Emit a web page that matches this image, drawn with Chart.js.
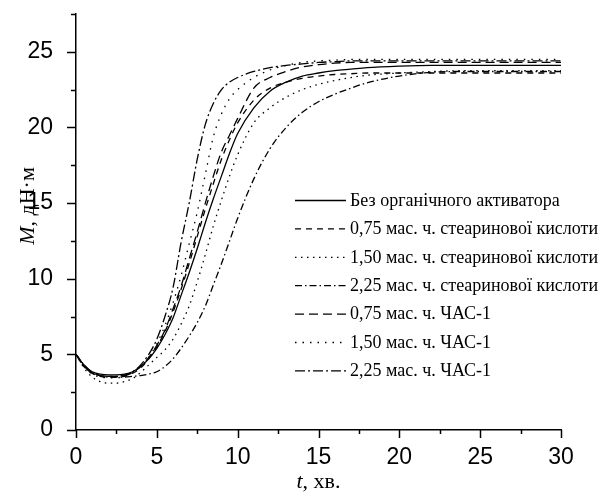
<!DOCTYPE html>
<html>
<head>
<meta charset="utf-8">
<script src="https://cdn.jsdelivr.net/npm/chart.js@4"></script>
<style>
  html, body { margin: 0; padding: 0; background: #fff; }
  #wrap { width: 603px; height: 497px; }
</style>
</head>
<body>
<div id="wrap"><canvas id="myChart" width="603" height="497"></canvas></div>
<script>
// time, min
const times = [0, 0.5, 1, 1.5, 2, 2.5, 3, 3.5, 4, 4.5, 5, 5.5, 6, 6.5, 7, 7.5, 8, 8.5, 9, 9.5, 10,
  11, 12, 13, 14, 15, 16, 17, 18, 20, 22, 24, 26, 28, 30];

// torque, dN*m
const noActivator = [5.0, 4.3, 3.85, 3.7, 3.65, 3.65, 3.7, 3.85, 4.2, 4.7, 5.4, 6.3, 7.4, 8.9, 10.4, 12.0, 13.7, 15.3, 16.8, 18.3, 19.6,
  21.3, 22.4, 23.0, 23.4, 23.6, 23.75, 23.85, 23.95, 24.05, 24.1, 24.1, 24.1, 24.1, 24.1];
const stearic075 = [5.0, 4.2, 3.75, 3.55, 3.5, 3.5, 3.55, 3.75, 4.1, 4.7, 5.5, 6.5, 7.8, 9.3, 11.0, 12.8, 14.6, 16.3, 17.9, 19.2, 20.3,
  21.8, 22.6, 23.0, 23.25, 23.4, 23.5, 23.55, 23.6, 23.6, 23.6, 23.6, 23.6, 23.6, 23.6];
const stearic150 = [5.0, 4.1, 3.5, 3.2, 3.1, 3.1, 3.2, 3.4, 3.8, 4.3, 4.8, 5.3, 6.0, 7.0, 8.2, 9.8, 11.6, 13.5, 15.2, 16.8, 18.2,
  20.3, 21.3, 22.0, 22.5, 22.85, 23.1, 23.3, 23.45, 23.6, 23.7, 23.75, 23.75, 23.75, 23.75];
const stearic225 = [5.0, 4.3, 3.8, 3.6, 3.5, 3.5, 3.5, 3.55, 3.6, 3.7, 3.85, 4.2, 4.7, 5.4, 6.2, 7.1, 8.2, 9.6, 11.0, 12.5, 14.0,
  16.6, 18.6, 20.0, 21.0, 21.7, 22.2, 22.6, 22.95, 23.4, 23.65, 23.7, 23.7, 23.7, 23.7];
const chas075 = [5.0, 4.25, 3.8, 3.6, 3.55, 3.55, 3.6, 3.8, 4.2, 4.8, 5.6, 6.6, 8.0, 9.5, 11.3, 13.1, 15.0, 16.8, 18.4, 19.5, 20.6,
  22.6, 23.3, 23.7, 24.0, 24.15, 24.25, 24.3, 24.3, 24.3, 24.3, 24.3, 24.3, 24.3, 24.3];
const chas150 = [5.0, 4.2, 3.7, 3.5, 3.45, 3.45, 3.55, 3.8, 4.2, 4.8, 5.7, 6.9, 8.4, 10.2, 12.3, 14.4, 16.9, 19.4, 20.9, 21.9, 22.5,
  23.3, 23.8, 24.1, 24.3, 24.4, 24.45, 24.5, 24.5, 24.5, 24.5, 24.5, 24.5, 24.5, 24.5];
const chas225 = [5.0, 4.2, 3.75, 3.6, 3.55, 3.55, 3.65, 3.85, 4.3, 5.0, 6.0, 7.5, 9.4, 12.4, 15.0, 17.9, 20.2, 21.6, 22.5, 23.0, 23.3,
  23.7, 23.95, 24.1, 24.2, 24.3, 24.35, 24.4, 24.4, 24.4, 24.4, 24.4, 24.4, 24.4, 24.4];

const seriesLabels = [
  "Без органічного активатора",
  "0,75 мас. ч. стеаринової кислоти",
  "1,50 мас. ч. стеаринової кислоти",
  "2,25 мас. ч. стеаринової кислоти",
  "0,75 мас. ч. ЧАС-1",
  "1,50 мас. ч. ЧАС-1",
  "2,25 мас. ч. ЧАС-1",
];
const seriesValues = [noActivator, stearic075, stearic150, stearic225, chas075, chas150, chas225];
const dashes = [[], [6, 5], [1.5, 4.5], [7, 3, 1.5, 3], [9, 5], [1.5, 6], [10, 3, 2, 3]];

const xTicks = [0, 5, 10, 15, 20, 25, 30];
const yTicks = [0, 5, 10, 15, 20, 25];

const datasets = seriesValues.map((values, i) => ({
  label: seriesLabels[i],
  data: values.map((v, j) => ({ x: times[j], y: v })),
  borderColor: "#000",
  borderWidth: 1.3,
  borderDash: dashes[i],
  pointRadius: 0,
  fill: false,
  cubicInterpolationMode: "monotone",
}));

// ticks: major every 5 (long), minor every 2.5 (short), drawn outside the axes
const tickMarks = {
  id: "tickMarks",
  afterDraw(chart) {
    const ctx = chart.ctx;
    const { x, y } = chart.scales;
    ctx.save();
    ctx.strokeStyle = "#000";
    ctx.lineWidth = 1.5;
    x.ticks.forEach((t) => {
      const px = Math.round(x.getPixelForValue(t.value)) + 0.5;
      const len = xTicks.includes(t.value) ? 8 : 4;
      ctx.beginPath();
      ctx.moveTo(px, y.bottom);
      ctx.lineTo(px, y.bottom + len);
      ctx.stroke();
    });
    y.ticks.forEach((t) => {
      const py = Math.round(y.getPixelForValue(t.value)) + 0.5;
      const len = yTicks.includes(t.value) ? 9 : 5;
      ctx.beginPath();
      ctx.moveTo(x.left, py);
      ctx.lineTo(x.left - len, py);
      ctx.stroke();
    });
    ctx.restore();
  },
};

// axis titles with italic symbol + legend inside the plot
const extras = {
  id: "extras",
  afterDraw(chart) {
    const ctx = chart.ctx;
    const area = chart.chartArea;
    ctx.save();
    ctx.fillStyle = "#000";
    ctx.textBaseline = "middle";

    const titleFont = "22px 'Liberation Serif', 'Times New Roman', serif";
    const italicFont = "italic 22px 'Liberation Serif', 'Times New Roman', serif";

    // x title
    ctx.font = italicFont;
    const tW = ctx.measureText("t").width;
    ctx.font = titleFont;
    const restX = ", хв.";
    const rW = ctx.measureText(restX).width;
    let sx = (area.left + area.right) / 2 - (tW + rW) / 2;
    ctx.font = italicFont;
    ctx.textAlign = "left";
    ctx.fillText("t", sx, 482);
    ctx.font = titleFont;
    ctx.fillText(restX, sx + tW, 482);

    // y title
    ctx.translate(28, 206);
    ctx.rotate(-Math.PI / 2);
    ctx.font = italicFont;
    const mW = ctx.measureText("M").width;
    ctx.font = titleFont;
    const restY = ", дН·м";
    const ryW = ctx.measureText(restY).width;
    sx = -(mW + ryW) / 2;
    ctx.font = italicFont;
    ctx.fillText("M", sx, 0);
    ctx.font = titleFont;
    ctx.fillText(restY, sx + mW, 0);
    ctx.setTransform(1, 0, 0, 1, 0, 0);

    // legend
    ctx.font = "18px 'Liberation Serif', 'Times New Roman', serif";
    ctx.lineWidth = 1.3;
    ctx.strokeStyle = "#000";
    chart.data.datasets.forEach((ds, i) => {
      const rowY = 200 + i * 28.4;
      ctx.setLineDash(ds.borderDash);
      ctx.beginPath();
      ctx.moveTo(295, rowY + 0.5);
      ctx.lineTo(346, rowY + 0.5);
      ctx.stroke();
      ctx.setLineDash([]);
      ctx.fillText(ds.label, 350, rowY + 1);
    });
    ctx.restore();
  },
};

const tickFont = { family: "'Liberation Sans', Arial, sans-serif", size: 23 };

const ctx = document.getElementById("myChart").getContext("2d");
new Chart(ctx, {
  type: "line",
  data: { datasets: datasets },
  options: {
    responsive: false,
    animation: false,
    layout: { padding: { top: 14, right: 42, left: 0, bottom: 0 } },
    plugins: {
      legend: { display: false },
      tooltip: { enabled: false },
    },
    scales: {
      x: {
        type: "linear",
        min: 0,
        max: 30,
        grid: { display: false },
        border: { display: true, color: "#000", width: 1.5 },
        ticks: {
          stepSize: 2.5,
          color: "#000",
          font: tickFont,
          padding: 6,
          maxRotation: 0,
          autoSkip: false,
          callback: (value) => (xTicks.includes(value) ? value : ""),
        },
        afterFit: (scale) => {
          scale.height = 67;
          scale.paddingLeft = 0;
          scale.paddingRight = 0;
        },
      },
      y: {
        min: 0,
        max: 27.5,
        grid: { display: false },
        border: { display: true, color: "#000", width: 1.5 },
        ticks: {
          stepSize: 2.5,
          color: "#000",
          font: tickFont,
          padding: 15,
          autoSkip: false,
          callback: (value) => (yTicks.includes(value) ? value : ""),
        },
        afterFit: (scale) => {
          scale.width = 76;
          scale.paddingTop = 0;
          scale.paddingBottom = 0;
        },
      },
    },
  },
  plugins: [tickMarks, extras],
});
</script>
</body>
</html>
